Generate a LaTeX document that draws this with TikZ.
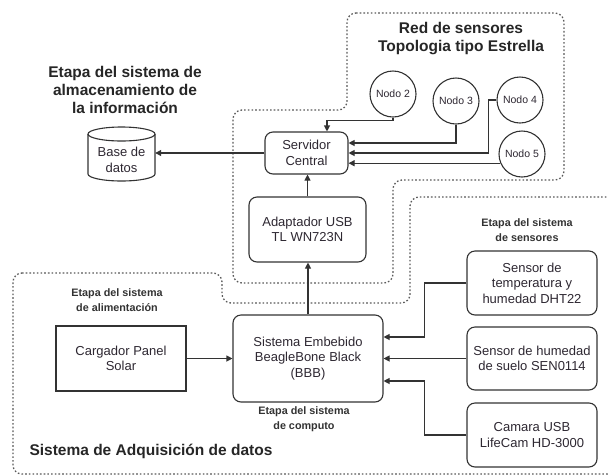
\documentclass[tikz,border=0pt]{standalone}
\usepackage{fontspec}
\setmainfont{Liberation Sans}
\usetikzlibrary{arrows.meta}
\definecolor{txt}{HTML}{2E2832}
\definecolor{ln}{HTML}{333333}
\definecolor{dotc}{HTML}{5A5A5A}
\begin{document}
\begin{tikzpicture}[x=1pt,y=-1pt,
  box/.style={draw=ln, line width=1.1pt, rounded corners=8pt, align=center, text=txt,
    font=\fontsize{13}{15.5}\selectfont, inner sep=0pt},
  sqbox/.style={box, rounded corners=0pt},
  nodo/.style={circle, draw=ln, line width=1.1pt, minimum size=46pt, inner sep=0pt,
    text=txt, font=\fontsize{10.5}{12}\selectfont},
  conn/.style={draw=ln, line width=1.1pt, -{Triangle[width=6pt,length=6pt]}},
  region/.style={draw=dotc, line width=1.3pt, dash pattern=on 1.6pt off 2.1pt, rounded corners=9pt},
  titletext/.style={font=\fontsize{15.5}{18}\bfseries\selectfont, align=center, text=black!85},
  smalltext/.style={font=\fontsize{10.8}{15}\bfseries\selectfont, align=center, text=black!80},
]
\useasboundingbox (0,0) rectangle (608,475);
\clip (0,0) rectangle (608,475);
\fill[white] (0,0) rectangle (608,475);

% regions
\draw[region] (347,13) -- (564,13) -- (564,180) -- (393,180) -- (393,283) -- (233,283) -- (233,110) -- (347,110) -- cycle;
\draw[region] (13,273) -- (222,273) -- (222,303) -- (410,303) -- (410,197) -- (616,197) -- (616,474) -- (13,474) -- cycle;

% titles
\node[titletext] (t1) at (125,90) {Etapa del sistema de\\almacenamiento de\\la información};
\node[titletext] (t2) at (461,39) {Red de sensores\\Topologia tipo Estrella};
\node[titletext, anchor=west] (t3) at (26,451) {Sistema de Adquisición de datos};
\node[smalltext] (s1) at (117,300) {Etapa del sistema\\de alimentación};
\node[smalltext] (s2) at (304,419) {Etapa del sistema\\de computo};
\node[smalltext] (s3) at (527,230) {Etapa del sistema\\de sensores};

% database
\node[inner sep=0pt, minimum width=67pt, minimum height=40pt, align=center, text=txt,
  font=\fontsize{13}{15.5}\selectfont] (db) at (121.5,160) {Base de\\datos};
\draw[ln, line width=1.1pt] (121.5,134) ellipse [x radius=33.5, y radius=7];
\draw[ln, line width=1.1pt] (88,134) -- (88,174) .. controls (88,177.87) and (103,181) .. (121.5,181)
  .. controls (140,181) and (155,177.87) .. (155,174) -- (155,134);

% boxes
\node[box, minimum width=83pt, minimum height=42pt] (srv) at (306.5,153) {Servidor\\Central};
\node[box, minimum width=117pt, minimum height=65pt] (adp) at (307.5,229.5) {Adaptador USB\\TL WN723N};
\node[box, minimum width=150pt, minimum height=87pt] (bbb) at (308,358.5) {Sistema Embebido\\BeagleBone Black\\(BBB)};
\node[sqbox, minimum width=130pt, minimum height=65pt] (car) at (121,358.5) {Cargador Panel\\Solar};
\node[box, minimum width=130pt, minimum height=64pt] (dht) at (532,283) {Sensor de\\temperatura y\\humedad DHT22};
\node[box, minimum width=130pt, minimum height=63pt] (sen) at (532,358.5) {Sensor de humedad\\de suelo SEN0114};
\node[box, minimum width=130pt, minimum height=64pt] (cam) at (532,435) {Camara USB\\LifeCam HD-3000};

% nodes
\node[nodo] (n2) at (393,94) {Nodo 2};
\node[nodo] (n3) at (456,101) {Nodo 3};
\node[nodo] (n4) at (520,100) {Nodo 4};
\node[nodo] (n5) at (522,154) {Nodo 5};

% connectors
\draw[conn] (srv.west) -- (srv.west -| db.east);
\draw[conn] (adp.north) -- (adp.north |- srv.south);
\draw[conn] (bbb.north) -- (bbb.north |- adp.south);
\draw[conn] (car.east) -- (car.east -| bbb.west);
\draw[conn] (dht.west) -- ++(-42,0) |- ([yshift=21.5pt]bbb.east);
\draw[conn] (sen.west) -- (sen.west -| bbb.east);
\draw[conn] (cam.west) -- ++(-42,0) |- ([yshift=-22.5pt]bbb.east);
\draw[conn] (n2.south) -- ++(0,3) -| ([xshift=20.5pt]srv.north);
\draw[conn] (n3.south) |- ([yshift=10pt]srv.east);
\draw[conn] (n4.west) -- ++(-8,0) |- (srv.east);
\draw[conn] (n5.203) -- (n5.203 -| srv.east);
\end{tikzpicture}
\end{document}
